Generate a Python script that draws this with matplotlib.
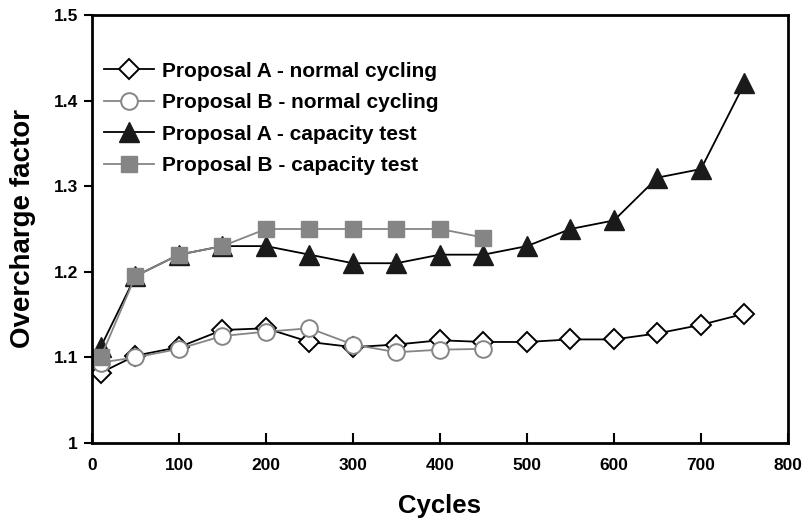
import matplotlib
matplotlib.use("Agg")
import matplotlib.pyplot as plt

plt.rcParams['font.family'] = ['Liberation Sans', 'DejaVu Sans']
plt.rcParams['font.weight'] = 'bold'

# Cycle counts and overcharge factors for each test
cycles_a = [10, 50, 100, 150, 200, 250, 300, 350, 400, 450, 500, 550, 600, 650, 700, 750]
cycles_b = [10, 50, 100, 150, 200, 250, 300, 350, 400, 450]

a_normal = [1.082, 1.102, 1.112, 1.132, 1.134, 1.118, 1.112, 1.115, 1.12, 1.118,
            1.118, 1.121, 1.121, 1.128, 1.138, 1.151]
b_normal = [1.094, 1.10, 1.11, 1.125, 1.13, 1.134, 1.115, 1.106, 1.109, 1.11]
a_capacity = [1.112, 1.195, 1.22, 1.23, 1.23, 1.22, 1.21, 1.21, 1.22, 1.22,
              1.23, 1.25, 1.26, 1.31, 1.32, 1.42]
b_capacity = [1.10, 1.195, 1.22, 1.23, 1.25, 1.25, 1.25, 1.25, 1.25, 1.24]

gray = '#858585'

fig = plt.figure(figsize=(8.12, 5.24), dpi=100)
ax = fig.add_axes([0.1133, 0.1546, 0.8571, 0.8168])

ax.plot(cycles_a, a_normal, color='black', lw=1.3, marker='D', ms=10,
        mfc='white', mec='black', mew=1.4, label='Proposal A - normal cycling')
ax.plot(cycles_b, b_normal, color=gray, lw=1.3, marker='o', ms=12,
        mfc='white', mec=gray, mew=1.4, label='Proposal B - normal cycling')
ax.plot(cycles_a, a_capacity, color='black', lw=1.3, marker='^', ms=14,
        mfc='#1a1a1a', mec='#1a1a1a', label='Proposal A - capacity test')
ax.plot(cycles_b, b_capacity, color=gray, lw=1.3, marker='s', ms=12,
        mfc=gray, mec=gray, label='Proposal B - capacity test')

ax.set_xlim(0, 800)
ax.set_ylim(1.0, 1.5)
ax.set_xticks(range(0, 801, 100))
ax.set_yticks([1.0, 1.1, 1.2, 1.3, 1.4, 1.5])
ax.set_yticklabels(['1', '1.1', '1.2', '1.3', '1.4', '1.5'])
ax.tick_params(axis='x', labelsize=12.5, width=1.5, length=7, direction='in', pad=11)
ax.tick_params(axis='y', labelsize=12.5, width=1.5, length=6, direction='out', pad=4)
for s in ax.spines.values():
    s.set_linewidth(2)

ax.set_xlabel('Cycles', fontsize=18.5, fontweight='bold', labelpad=15)
ax.set_ylabel('Overcharge factor', fontsize=20, fontweight='bold', labelpad=13)

ax.legend(loc='upper left', bbox_to_anchor=(0.0, 0.92), frameon=False,
          fontsize=15, handlelength=2.4, handletextpad=0.35, labelspacing=0.6,
          borderaxespad=0.2)

fig.savefig('out.png', dpi=100)
